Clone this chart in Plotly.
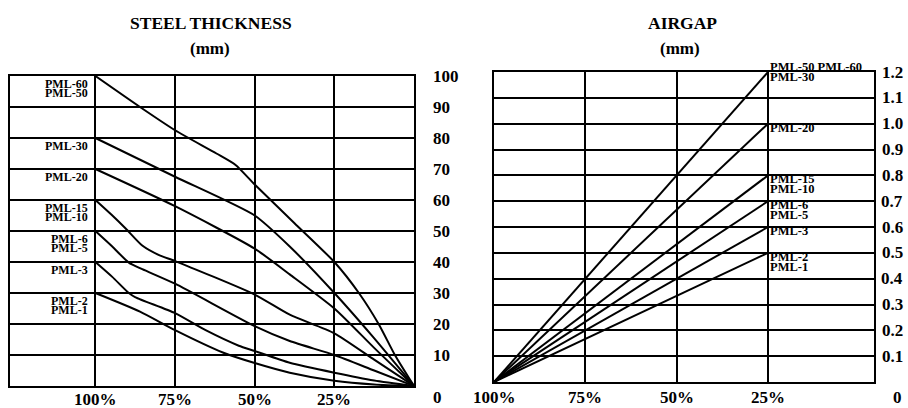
import plotly.graph_objects as go

# ---------------- data ----------------
steel_x_ticks = [100, 75, 50, 25]
steel_x_labels = ["100%", "75%", "50%", "25%"]
steel_y_ticks = [0, 10, 20, 30, 40, 50, 60, 70, 80, 90, 100]
steel_y_labels = ["0", "10", "20", "30", "40", "50", "60", "70", "80", "90", "100"]

steel_pml60_pct = [100, 86, 75, 62, 56, 50, 37.5, 25, 17.3, 11.1, 6, 0]
steel_pml60_mm = [100, 90, 82.5, 75, 71.3, 65, 52.5, 40, 30, 20, 10, 0]
steel_pml30_pct = [100, 75, 50, 39, 25, 13, 0]
steel_pml30_mm = [80, 67.5, 55, 45, 30, 16, 0]
steel_pml20_pct = [100, 75, 50, 39, 25, 12.5, 0]
steel_pml20_mm = [70, 58, 44.3, 36, 25, 12.3, 0]
steel_pml15_pct = [100, 95, 90.5, 85.3, 80, 75, 50, 39, 25, 12.5, 0]
steel_pml15_mm = [60, 55.3, 50.8, 45.3, 42.2, 40.3, 29.5, 23, 17, 8.5, 0]
steel_pml6_pct = [100, 94.7, 89.5, 85.3, 75, 50, 39, 25, 12.5, 0]
steel_pml6_mm = [50, 45, 39.8, 37.7, 33, 19.3, 14.5, 10, 5, 0]
steel_pml3_pct = [100, 94.7, 89.5, 87.4, 75, 65.4, 55, 50, 39, 25, 12.5, 0]
steel_pml3_mm = [40, 35.2, 30, 28.6, 23.5, 18, 13, 11.3, 7.5, 4.3, 1.8, 0]
steel_pml2_pct = [100, 86, 75, 60, 50, 39, 25, 12.5, 0]
steel_pml2_mm = [30, 24, 18, 10.8, 7.4, 4.3, 1.7, 0.5, 0]

steel_labels = [["PML-60", "PML-50"], ["PML-30"], ["PML-20"], ["PML-15", "PML-10"],
                ["PML-6", "PML-5"], ["PML-3"], ["PML-2", "PML-1"]]

airgap_x_ticks = [100, 75, 50, 25]
airgap_x_labels = ["100%", "75%", "50%", "25%"]
airgap_y_ticks = [0, 0.1, 0.2, 0.3, 0.4, 0.5, 0.6, 0.7, 0.8, 0.9, 1.0, 1.1, 1.2]
airgap_y_labels = ["0", "0.1", "0.2", "0.3", "0.4", "0.5", "0.6", "0.7", "0.8", "0.9", "1.0", "1.1", "1.2"]

airgap_pct = [100, 25]
airgap_pml60 = [0, 1.2]
airgap_pml20 = [0, 1.0]
airgap_pml15 = [0, 0.8]
airgap_pml6 = [0, 0.7]
airgap_pml3 = [0, 0.6]
airgap_pml2 = [0, 0.5]

airgap_labels = [["PML-50 PML-60", "PML-30"], ["PML-20"], ["PML-15", "PML-10"],
                 ["PML-6", "PML-5"], ["PML-3"], ["PML-2", "PML-1"]]

# ---------------- figure ----------------
W, H = 908, 408
FONT = "Liberation Serif"


def px_x(x):
    return x / W


def px_y(y):
    return 1 - y / H


fig = go.Figure()

steel_series = [
    (steel_pml60_pct, steel_pml60_mm),
    (steel_pml30_pct, steel_pml30_mm),
    (steel_pml20_pct, steel_pml20_mm),
    (steel_pml15_pct, steel_pml15_mm),
    (steel_pml6_pct, steel_pml6_mm),
    (steel_pml3_pct, steel_pml3_mm),
    (steel_pml2_pct, steel_pml2_mm),
]
for (xs, ys), names in zip(steel_series, steel_labels):
    fig.add_trace(go.Scatter(x=xs, y=ys, mode="lines", name=" / ".join(names),
                             line=dict(color="black", width=2, shape="spline", smoothing=0.6),
                             xaxis="x", yaxis="y", showlegend=False, hoverinfo="skip"))

airgap_series = [airgap_pml60, airgap_pml20, airgap_pml15, airgap_pml6, airgap_pml3, airgap_pml2]
for ys, names in zip(airgap_series, airgap_labels):
    fig.add_trace(go.Scatter(x=airgap_pct, y=ys, mode="lines", name=" / ".join(names),
                             line=dict(color="black", width=2),
                             xaxis="x2", yaxis="y2", showlegend=False, hoverinfo="skip"))

axis_common = dict(showgrid=True, gridcolor="black", gridwidth=2, zeroline=False,
                   showline=True, mirror=True, linecolor="black", linewidth=2,
                   showticklabels=False, ticks="", fixedrange=True)

fig.update_layout(
    width=W, height=H,
    margin=dict(l=0, r=0, t=0, b=0),
    paper_bgcolor="white", plot_bgcolor="white",
    xaxis=dict(domain=[px_x(10), px_x(414)], range=[126.8, 0], tickvals=steel_x_ticks,
               anchor="y", **axis_common),
    yaxis=dict(domain=[px_y(386), px_y(76)], range=[0, 100], tickvals=steel_y_ticks,
               anchor="x", **axis_common),
    xaxis2=dict(domain=[px_x(494), px_x(874)], range=[100, -4], tickvals=airgap_x_ticks,
                anchor="y2", **axis_common),
    yaxis2=dict(domain=[px_y(382), px_y(72)], range=[0, 1.2], tickvals=airgap_y_ticks,
                anchor="x2", **axis_common),
)

ann = []


def text(t, **kw):
    d = dict(text="<b>" + t + "</b>", showarrow=False, xanchor="center", yanchor="middle",
             font=dict(family=FONT, size=kw.pop("size", 17), color="black"))
    d.update(kw)
    ann.append(d)


# titles
text("STEEL THICKNESS", x=px_x(211), y=px_y(23), xref="paper", yref="paper", size=17.5)
text("(mm)", x=px_x(210), y=px_y(48), xref="paper", yref="paper", size=17)
text("AIRGAP", x=px_x(682), y=px_y(23), xref="paper", yref="paper", size=17.5)
text("(mm)", x=px_x(680), y=px_y(48), xref="paper", yref="paper", size=17)

# left chart tick labels
for v, lab in zip(steel_y_ticks, steel_y_labels):
    text(lab, x=px_x(431), y=v, xref="paper", yref="y", xanchor="left",
         yshift=-11 if v == 0 else 0)
for v, lab in zip(steel_x_ticks, steel_x_labels):
    text(lab, x=v, y=px_y(399), xref="x", yref="paper")

# right chart tick labels
for v, lab in zip(airgap_y_ticks, airgap_y_labels):
    text(lab, x=px_x(892), y=v, xref="paper", yref="y2",
         yshift=-15 if v == 0 else 0, xshift=5 if v == 0 else 0)
for v, lab in zip(airgap_x_ticks, airgap_x_labels):
    text(lab, x=v, y=px_y(397), xref="x2", yref="paper")

# left chart curve labels (placed just left of each curve's start)
for (xs, ys), names in zip(steel_series, steel_labels):
    for i, nm in enumerate(names):
        text(nm, x=xs[0], y=ys[0], xref="x", yref="y", xanchor="right", size=12,
             xshift=-5, yshift=-8 - 9 * i)

# right chart curve labels (placed just right of each line's end)
for ys, names in zip(airgap_series, airgap_labels):
    top = ys[-1] >= 1.2
    for i, nm in enumerate(names):
        shift = (5 - 10 * i) if top else (-4 - 10 * i)
        text(nm, x=airgap_pct[-1], y=ys[-1], xref="x2", yref="y2", xanchor="left", size=12.5,
             xshift=0, yshift=shift)

fig.update_layout(annotations=ann)
fig.write_html(
    "out.html",
    config={"displayModeBar": False},
    post_script="document.body.style.margin='0';document.body.style.overflow='hidden';",
)
